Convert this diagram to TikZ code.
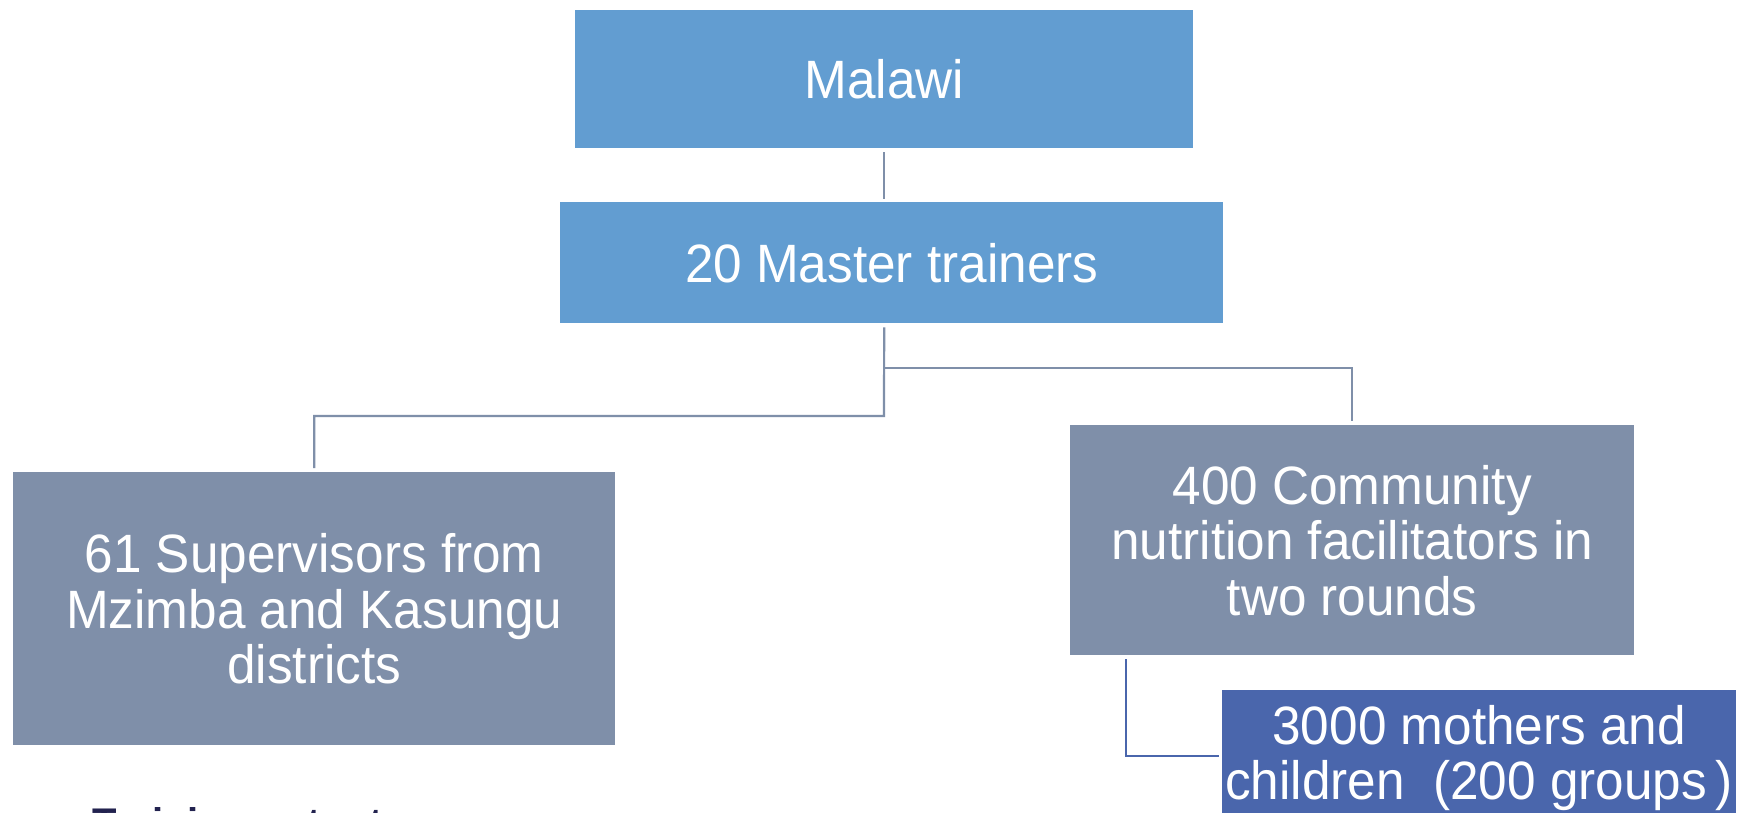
\documentclass[tikz,border=0pt]{standalone}
\usepackage{fontspec}
\setmainfont[FakeStretch=0.95]{Liberation Sans}
\newfontfamily\tsfont{Liberation Sans}
\definecolor{lblue}{HTML}{629DD1}
\definecolor{gblue}{HTML}{7F8FA9}
\definecolor{dblue}{HTML}{4A66AC}
\definecolor{navy}{HTML}{22224F}
\begin{document}
\begin{tikzpicture}[x=1pt,y=-1pt,
  box/.style={rectangle, inner sep=0pt, anchor=north west, text=white, align=center,
    font=\fontsize{54}{55.5}\selectfont},
  conn/.style={draw=gblue, line width=2.2pt},
  conn2/.style={draw=dblue, line width=2.2pt},
]
\useasboundingbox (0,0) rectangle (1743,812);
\clip (0,0) rectangle (1743,812);
\fill[white] (0,0) rectangle (1743,812);

\node[box, fill=lblue, minimum width=618pt, minimum height=138pt] (malawi) at (575,10) {Malawi};
\node[box, fill=lblue, minimum width=663pt, minimum height=121pt] (master) at (560,202) {20 Master trainers};
\node[box, fill=gblue, minimum width=602pt, minimum height=273pt] (left) at (13,472) {61 Supervisors from\\Mzimba and Kasungu\\districts};
\node[box, fill=gblue, minimum width=564pt, minimum height=230pt] (right) at (1070,425) {400 Community\\nutrition facilitators in\\two rounds};
\node[box, fill=dblue, minimum width=514pt, minimum height=136pt] (mothers) at (1222,690) {3000 mothers and\\children\ \ (200 groups\,)};

\node[anchor=base west, inner sep=0pt, text=navy, font=\tsfont\bfseries\fontsize{40}{40}\selectfont] (ts) at (92,836) {Training outputs};

\coordinate (jL) at (884,416);
\coordinate (jR) at (884,368);
\coordinate (jB) at (1126,756);

\draw[conn, shorten <=4pt, shorten >=3pt] (malawi.south) -- (malawi.south |- master.north);
\draw[conn, shorten <=4pt, shorten >=4pt] (malawi.south |- master.south) -- (jL) -| (left.north);
\draw[conn, shorten >=4pt] (jR) -| (right.north);
\draw[conn2, shorten <=4pt, shorten >=3pt] (jB |- right.south) -- (jB) -- (jB -| mothers.west);
\end{tikzpicture}
\end{document}
